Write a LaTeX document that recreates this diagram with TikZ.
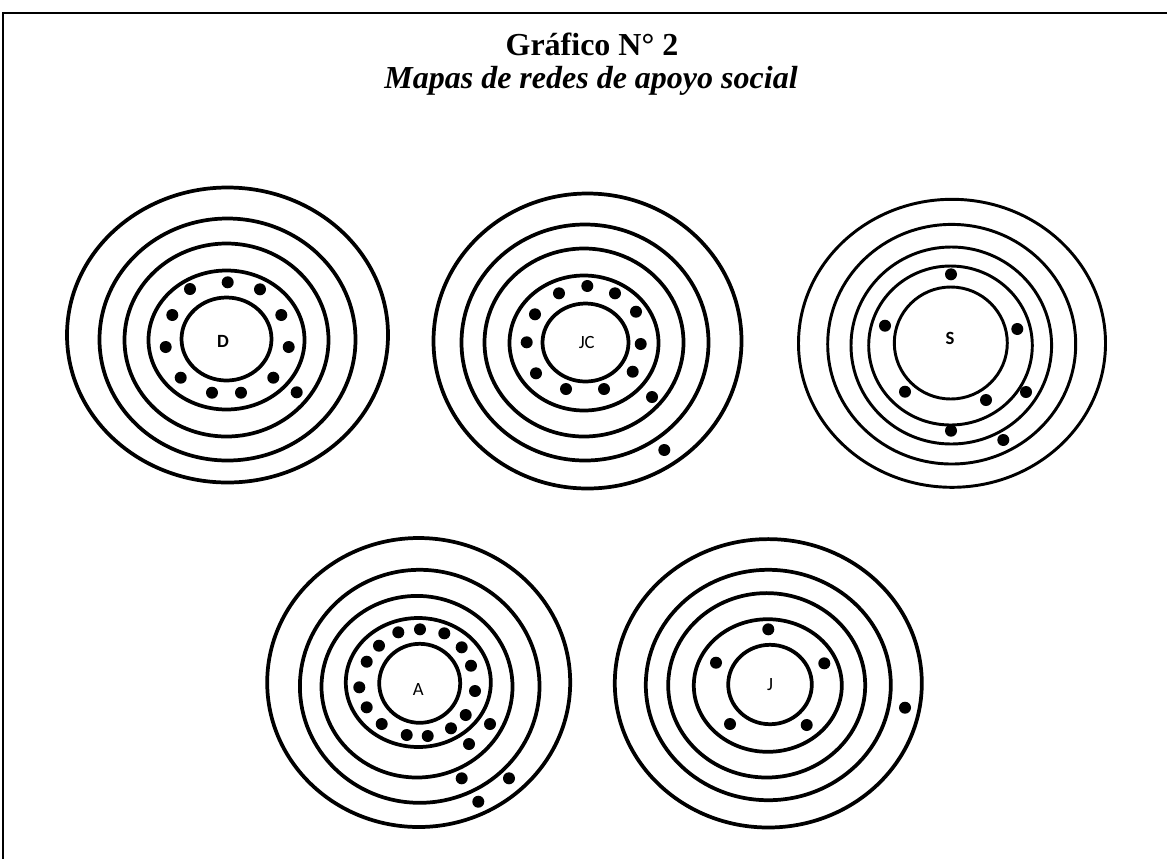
\documentclass[tikz,border=0pt]{standalone}
\usepackage{fontspec}
\setmainfont{Liberation Serif}
\newfontfamily\lblfont{Carlito}
\begin{document}
\begin{tikzpicture}[x=0.75pt,y=-0.75pt,
  ring/.style={line width=2.8pt},
  thinring/.style={line width=2.2pt},
  member/.style={fill=black},
  who/.style={font=\lblfont\fontsize{14}{14}\selectfont, inner sep=0pt},
  whob/.style={font=\lblfont\bfseries\fontsize{14}{14}\selectfont, inner sep=0pt},
  frameline/.style={line width=1.6pt}]
\useasboundingbox (0,0) rectangle (1167,858);

% page frame (open to the right and bottom)
\draw[frameline] (3,870) -- (3,13) -- (1180,13);

% title
\node[anchor=base, font=\bfseries\fontsize{24}{24}\selectfont, inner sep=0pt] (title) at (592,55) {Gráfico N° 2};
\node[anchor=base, font=\bfseries\itshape\fontsize{24}{24}\selectfont, inner sep=0pt] (subtitle) at (591,88) {Mapas de redes de apoyo social};

% ---------- map D ----------
\draw[ring] (227.5,335) ellipse [x radius=160.5, y radius=147.5];
\draw[ring] (227.5,339.5) ellipse [x radius=128, y radius=121];
\draw[ring] (226.5,340) ellipse [x radius=102, y radius=96.5];
\draw[ring] (226.5,340) ellipse [x radius=78, y radius=69.5];
\draw[ring] (226.5,339) ellipse [x radius=45, y radius=41.5];
\node[whob] (lD) at (223,341) {D};
\foreach \p in {(227.7,282.3),(190,289),(260,289.3),(172.3,315),(281.3,315),
  (165.7,347),(288.7,347),(180.7,377.7),(273.3,377.7),(212,392.7),(241,392.7),(296.7,392.3)}
  \fill[member] \p circle [radius=6];

% ---------- map JC ----------
\draw[ring] (587.5,341) ellipse [x radius=154, y radius=147.5];
\draw[ring] (585,342.5) ellipse [x radius=123.5, y radius=118];
\draw[ring] (584,342.5) ellipse [x radius=99.5, y radius=94];
\draw[ring] (584,343) ellipse [x radius=74.5, y radius=67.5];
\draw[ring] (585.5,342.5) ellipse [x radius=43, y radius=39];
\node[who] (lJC) at (586.7,342.3) {JC};
\foreach \p in {(587.3,286),(559,293.3),(615,293.3),(535,314.3),(636,311.7),
  (526.7,342.3),(640.7,344),(536,373.3),(632.7,371.7),(566,389),(604,389),
  (652,397),(664.3,450)}
  \fill[member] \p circle [radius=6];

% ---------- map S ----------
\draw[thinring] (952,343.3) ellipse [x radius=153.5, y radius=144];
\draw[thinring] (951.7,344.2) ellipse [x radius=124, y radius=119.8];
\draw[thinring] (951.3,345.5) ellipse [x radius=100.3, y radius=98.5];
\draw[thinring] (950.5,345.5) ellipse [x radius=81.8, y radius=79.5];
\draw[thinring] (950.8,343) ellipse [x radius=56.5, y radius=56];
\node[whob] (lS) at (950,338) {S};
\foreach \p in {(951,274.3),(885,325.7),(1017.3,329),(905,391.7),(986,400),
  (1026,392),(951,430.7),(1003.3,440)}
  \fill[member] \p circle [radius=6];

% ---------- map A ----------
\draw[ring] (418.7,682.5) ellipse [x radius=151.5, y radius=144.5];
\draw[ring] (419.7,686.3) ellipse [x radius=119.8, y radius=116.5];
\draw[ring] (417,686.7) ellipse [x radius=95.5, y radius=90.8];
\draw[ring] (418.3,682.5) ellipse [x radius=72.5, y radius=64.5];
\draw[ring] (419.7,683.3) ellipse [x radius=40.5, y radius=39.5];
\node[who] (lA) at (418.3,689) {A};
\foreach \p in {(420,629.3),(398.3,632.3),(444.3,633.3),(379,645.7),(461.7,647.3),
  (366.7,661.7),(471,665.7),(359.3,687.3),(475,691),(366.7,707.3),(465.7,715),
  (381.7,724),(451,728.3),(406.7,735),(427.7,736),(490,724),(469,744),
  (461.7,778.3),(509,778.3),(478.3,801.7)}
  \fill[member] \p circle [radius=6];

% ---------- map J ----------
\draw[ring] (768.3,683.3) ellipse [x radius=153.5, y radius=144.2];
\draw[ring] (768.3,685) ellipse [x radius=122.5, y radius=115.2];
\draw[ring] (766.7,685.3) ellipse [x radius=98.5, y radius=92.2];
\draw[ring] (767.8,685.5) ellipse [x radius=74, y radius=66.3];
\draw[ring] (770,684.5) ellipse [x radius=41.8, y radius=39.7];
\node[who] (lJ) at (770,685) {J};
\foreach \p in {(768.3,629.3),(716,662.7),(824.3,663.3),(730,724),(806.7,725),(905,707.7)}
  \fill[member] \p circle [radius=6];
\end{tikzpicture}
\end{document}
